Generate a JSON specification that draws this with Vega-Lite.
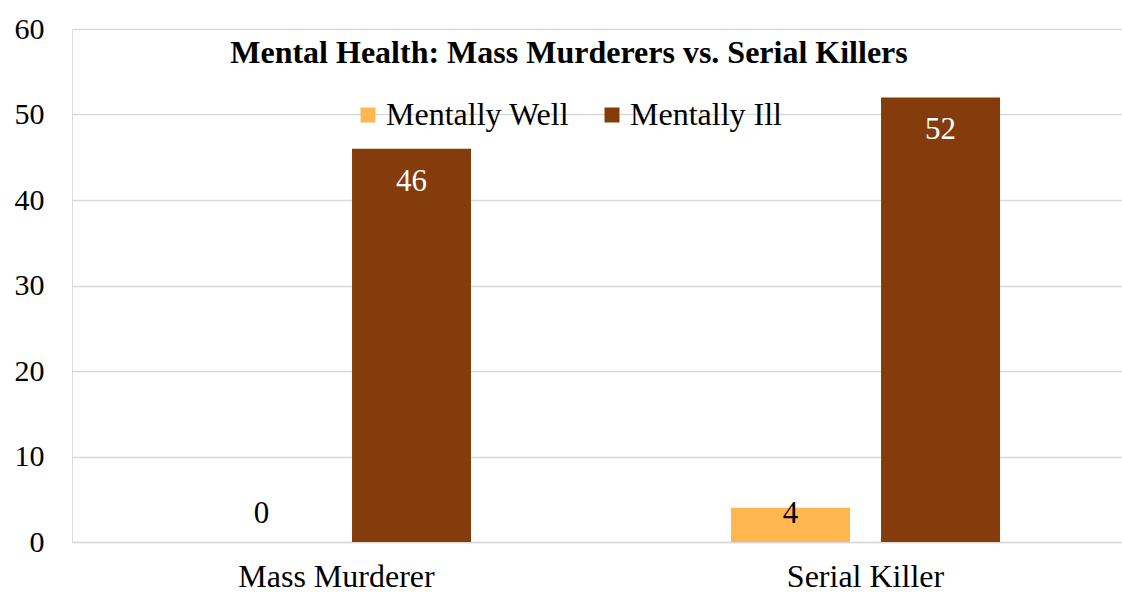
{
  "$schema": "https://vega.github.io/schema/vega-lite/v6.json",
  "autosize": {"type": "none"},
  "padding": {"left": 72, "top": 29, "right": 0, "bottom": 53},
  "width": 1058,
  "height": 513,
  "background": "white",
  "config": {"font": "Times New Roman, Liberation Serif, serif"},
  "title": {
    "text": "Mental Health: Mass Murderers vs. Serial Killers",
    "font": "Times New Roman, Liberation Serif, serif",
    "fontSize": 32,
    "fontWeight": "bold",
    "color": "#000000",
    "anchor": "middle",
    "baseline": "alphabetic",
    "dx": -32,
    "offset": -81
  },
  "data": {
    "values": [
      {"category": "Mass Murderer", "series": "Mentally Well", "value": 0},
      {"category": "Mass Murderer", "series": "Mentally Ill", "value": 46},
      {"category": "Serial Killer", "series": "Mentally Well", "value": 4},
      {"category": "Serial Killer", "series": "Mentally Ill", "value": 52}
    ]
  },
  "encoding": {
    "x": {
      "field": "category",
      "type": "nominal",
      "sort": ["Mass Murderer", "Serial Killer"],
      "scale": {"paddingInner": 0.4915, "paddingOuter": 0.2457},
      "axis": {
        "title": null,
        "labelAngle": 0,
        "labelFont": "Times New Roman, Liberation Serif, serif",
        "labelFontSize": 32,
        "labelColor": "#000000",
        "labelPadding": 19,
        "labelLimit": 0,
        "ticks": false,
        "domainColor": "#d9d9d9",
        "domainWidth": 1.5
      }
    },
    "xOffset": {
      "field": "series",
      "type": "nominal",
      "sort": ["Mentally Well", "Mentally Ill"],
      "scale": {"paddingInner": 0.207, "paddingOuter": 0}
    },
    "y": {
      "field": "value",
      "type": "quantitative",
      "scale": {"domain": [0, 60], "nice": false},
      "axis": {
        "title": null,
        "values": [0, 10, 20, 30, 40, 50, 60],
        "labelFont": "Times New Roman, Liberation Serif, serif",
        "labelFontSize": 30,
        "labelColor": "#000000",
        "labelPadding": 28,
        "ticks": false,
        "domain": false,
        "gridColor": "#d9d9d9",
        "gridWidth": 1.5
      }
    }
  },
  "layer": [
    {
      "mark": {"type": "bar"},
      "encoding": {
        "color": {
          "field": "series",
          "type": "nominal",
          "scale": {"domain": ["Mentally Well", "Mentally Ill"], "range": ["#FFB84F", "#843C0C"]},
          "legend": {
            "title": null,
            "orient": "none",
            "legendX": 280,
            "legendY": 70,
            "direction": "horizontal",
            "symbolType": "square",
            "symbolSize": 225,
            "symbolStrokeWidth": 0,
            "labelFont": "Times New Roman, Liberation Serif, serif",
            "labelFontSize": 32,
            "labelColor": "#000000",
            "labelOffset": 2,
            "columnPadding": 26,
            "labelLimit": 400
          }
        }
      }
    },
    {
      "transform": [{"filter": "datum.series === 'Mentally Ill'"}],
      "mark": {"type": "text", "baseline": "top", "dy": 18, "font": "Times New Roman, Liberation Serif, serif", "fontSize": 31, "color": "#ffffff"},
      "encoding": {"text": {"field": "value", "type": "quantitative"}}
    },
    {
      "transform": [{"filter": "datum.series === 'Mentally Well'"}],
      "mark": {"type": "text", "baseline": "alphabetic", "dy": -19, "font": "Times New Roman, Liberation Serif, serif", "fontSize": 31, "color": "#000000"},
      "encoding": {
        "y": {"datum": 0},
        "text": {"field": "value", "type": "quantitative"}
      }
    }
  ]
}
